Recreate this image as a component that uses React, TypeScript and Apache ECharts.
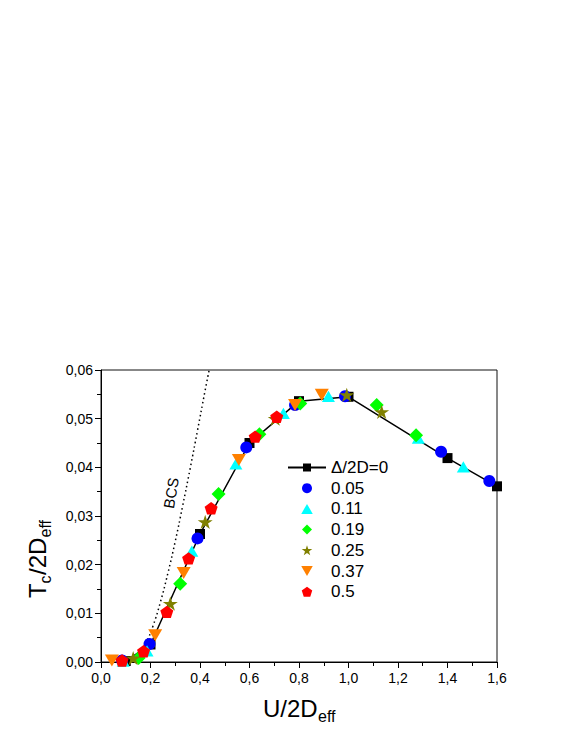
import React, { useEffect, useRef } from "react";
import * as echarts from "echarts";

// ---- data ----
const legendNames = ["Δ/2D=0", "0.05", "0.11", "0.19", "0.25", "0.37", "0.5"];

const u0 = [0.1, 0.2, 0.4, 0.6, 0.8, 1.0, 1.4, 1.6];
const tc0 = [0.0002, 0.0036, 0.0263, 0.045, 0.0536, 0.0545, 0.0419, 0.0361];

const u05 = [0.085, 0.196, 0.39, 0.587, 0.784, 0.986, 1.374, 1.569];
const tc05 = [0.0003, 0.0037, 0.0254, 0.0441, 0.0528, 0.0546, 0.0432, 0.0372];

const u11 = [0.09, 0.186, 0.367, 0.545, 0.737, 0.919, 1.282, 1.464];
const tc11 = [0.0002, 0.0023, 0.0228, 0.0407, 0.0511, 0.0546, 0.046, 0.0401];

const u19 = [0.152, 0.32, 0.475, 0.64, 0.805, 1.114, 1.273];
const tc19 = [0.0008, 0.0161, 0.0345, 0.0468, 0.0531, 0.0528, 0.0466];

const u25 = [0.13, 0.28, 0.421, 0.704, 0.993, 1.134];
const tc25 = [0.0008, 0.012, 0.0288, 0.05, 0.0549, 0.0514];

const u37 = [0.044, 0.219, 0.334, 0.557, 0.784, 0.892];
const tc37 = [0.0003, 0.0055, 0.0183, 0.0415, 0.0528, 0.0549];

const u50 = [0.085, 0.172, 0.266, 0.354, 0.445, 0.623, 0.71];
const tc50 = [0.0003, 0.0022, 0.0103, 0.0213, 0.0316, 0.0463, 0.0504];

// dotted BCS curve
const uBcs = [0.12, 0.15, 0.18, 0.21, 0.24, 0.27, 0.3, 0.33, 0.36, 0.39, 0.42, 0.437];
const tcBcs = [0.0004, 0.0015, 0.0038, 0.0074, 0.0123, 0.0182, 0.0248, 0.0321, 0.0397, 0.0476, 0.0556, 0.06];

const xTickLabels = ["0,0", "0,2", "0,4", "0,6", "0,8", "1,0", "1,2", "1,4", "1,6"];
const yTickLabels = ["0,00", "0,01", "0,02", "0,03", "0,04", "0,05", "0,06"];

const FONT = "'Liberation Sans', Arial, sans-serif";

const STAR =
  "path://M100 0 L122.45 69.1 L195.1 69.1 L136.3 111.8 L158.8 180.9 L100 138.2 L41.2 180.9 L63.7 111.8 L4.9 69.1 L77.55 69.1 Z";
const PENTAGON = "path://M100 0 L195.1 69.1 L158.8 180.9 L41.2 180.9 L4.9 69.1 Z";
const INV_TRI = "path://M0 0 L100 0 L50 86.6 Z";
const TRI = "path://M50 0 L100 86.6 L0 86.6 Z";
const DIAMOND = "path://M50 0 L100 50 L50 100 L0 50 Z";

const zip = (a: number[], b: number[]) => a.map((v, i) => [v, b[i]]);

export default function App() {
  const ref = useRef<HTMLDivElement>(null);

  useEffect(() => {
    if (!ref.current) return;
    const chart = echarts.init(ref.current, null, { renderer: "svg" });

    const scatter = (name: string, u: number[], tc: number[], symbol: string, size: number, color: string) => ({
      name,
      type: "scatter",
      data: zip(u, tc),
      symbol,
      symbolSize: size,
      symbolKeepAspect: true,
      itemStyle: { color, opacity: 1 },
      z: 3,
    });

    const option: any = {
      animation: false,
      backgroundColor: "#fff",
      grid: {
        left: 101,
        top: 370,
        width: 396,
        height: 292,
        show: true,
        borderColor: "#111",
        borderWidth: 1,
        containLabel: false,
      },
      xAxis: {
        type: "value",
        min: 0,
        max: 1.6,
        interval: 0.2,
        axisLine: { show: true, lineStyle: { color: "#000", width: 1 } },
        axisTick: { show: true, length: 6, inside: false, lineStyle: { color: "#000" } },
        minorTick: { show: true, splitNumber: 2, length: 4, lineStyle: { color: "#000" } },
        splitLine: { show: false },
        axisLabel: {
          margin: 9,
          color: "#000",
          fontSize: 14,
          fontFamily: FONT,
          formatter: (v: number) => xTickLabels[Math.round(v / 0.2)] ?? "",
        },
      },
      yAxis: {
        type: "value",
        min: 0,
        max: 0.06,
        interval: 0.01,
        axisLine: { show: true, lineStyle: { color: "#000", width: 1 } },
        axisTick: { show: true, length: 6, inside: false, lineStyle: { color: "#000" } },
        minorTick: { show: true, splitNumber: 2, length: 4, lineStyle: { color: "#000" } },
        splitLine: { show: false },
        axisLabel: {
          margin: 8,
          color: "#000",
          fontSize: 14,
          fontFamily: FONT,
          formatter: (v: number) => yTickLabels[Math.round(v / 0.01)] ?? "",
        },
      },
      legend: {
        orient: "vertical",
        left: 282,
        top: 454,
        itemWidth: 38,
        itemHeight: 10,
        itemGap: 3.7,
        symbolKeepAspect: true,
        data: legendNames,
        textStyle: { color: "#000", fontSize: 17, fontFamily: FONT, padding: [0, 0, 0, 0] },
      },
      series: [
        {
          name: "BCS",
          type: "line",
          data: zip(uBcs, tcBcs),
          showSymbol: false,
          symbol: "none",
          smooth: true,
          lineStyle: { color: "#000", width: 1.5, type: [1.5, 3] },
          z: 1,
          silent: true,
        },
        {
          name: legendNames[0],
          type: "line",
          data: zip(u0, tc0),
          symbol: "rect",
          symbolSize: 10,
          showSymbol: true,
          showAllSymbol: true,
          itemStyle: { color: "#000" },
          lineStyle: { color: "#000", width: 1.5 },
          z: 2,
        },
        scatter(legendNames[1], u05, tc05, "circle", 12, "#0000ff"),
        scatter(legendNames[2], u11, tc11, TRI, 13, "#00ffff"),
        scatter(legendNames[3], u19, tc19, DIAMOND, 14, "#00ff00"),
        scatter(legendNames[4], u25, tc25, STAR, 15, "#808000"),
        scatter(legendNames[5], u37, tc37, INV_TRI, 14, "#ff8000"),
        scatter(legendNames[6], u50, tc50, PENTAGON, 13, "#ff0000"),
      ],
      graphic: [
        {
          type: "text",
          x: 263,
          y: 708,
          style: { text: "U/2D", fontSize: 24, fontFamily: FONT, fill: "#000", align: "left", verticalAlign: "middle" },
        },
        {
          type: "text",
          x: 318,
          y: 716,
          style: { text: "eff", fontSize: 16, fontFamily: FONT, fill: "#000", align: "left", verticalAlign: "middle" },
        },
        {
          type: "group",
          x: 37,
          y: 598,
          rotation: Math.PI / 2,
          children: [
            {
              type: "text",
              x: 0,
              y: 0,
              style: { text: "T", fontSize: 24, fontFamily: FONT, fill: "#000", align: "left", verticalAlign: "middle" },
            },
            {
              type: "text",
              x: 14.5,
              y: 8,
              style: { text: "c", fontSize: 16, fontFamily: FONT, fill: "#000", align: "left", verticalAlign: "middle" },
            },
            {
              type: "text",
              x: 23,
              y: 0,
              style: { text: "/2D", fontSize: 24, fontFamily: FONT, fill: "#000", align: "left", verticalAlign: "middle" },
            },
            {
              type: "text",
              x: 60.5,
              y: 8,
              style: { text: "eff", fontSize: 16, fontFamily: FONT, fill: "#000", align: "left", verticalAlign: "middle" },
            },
          ],
        },
        {
          type: "text",
          x: 171,
          y: 493,
          rotation: (80 * Math.PI) / 180,
          style: { text: "BCS", fontSize: 15, fontFamily: FONT, fill: "#000", align: "center", verticalAlign: "middle" },
        },
      ],
    };

    chart.setOption(option);
    return () => chart.dispose();
  }, []);

  return (
    <div
      ref={ref}
      style={{ position: "fixed", left: 0, top: 0, width: 581, height: 752, background: "#fff" }}
    />
  );
}
